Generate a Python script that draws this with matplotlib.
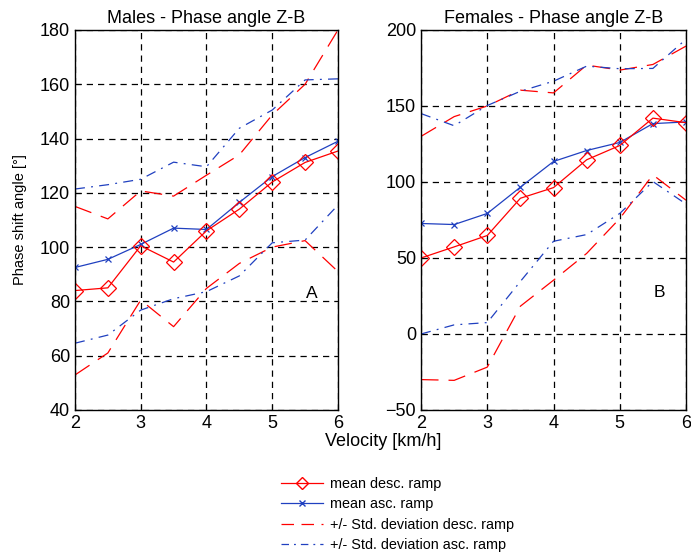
import matplotlib
matplotlib.use("Agg")
import matplotlib.pyplot as plt
from matplotlib.lines import Line2D

plt.rcParams['font.family'] = ['Liberation Sans', 'DejaVu Sans']

velocity = [2, 2.5, 3, 3.5, 4, 4.5, 5, 5.5, 6]

# Males
m_desc_mean = [84, 85, 100.5, 94.5, 106, 114, 124, 131.2, 135.4]
m_asc_mean = [92.5, 95.5, 101, 107, 106.5, 116.5, 126, 133, 139]
m_desc_up = [115, 110.4, 120.7, 118.8, 126.5, 134, 148.7, 160, 180]
m_desc_lo = [52.9, 61, 80.5, 70.7, 84.8, 94, 100, 102.4, 91]
m_asc_up = [121.4, 123, 125, 131.3, 129.6, 143.8, 150.5, 161.6, 162]
m_asc_lo = [64.6, 67.6, 76.8, 81, 83.6, 89.4, 101.6, 102.6, 115.5]

# Females
f_desc_mean = [50, 57.3, 64.8, 89.3, 96.3, 114.6, 124, 142, 139]
f_asc_mean = [72.7, 72, 79.3, 96.6, 113.5, 120.7, 126, 138.4, 139.5]
f_desc_up = [130, 143, 150, 160.4, 158.6, 176.9, 173.6, 177.3, 189.4]
f_desc_lo = [-30, -30.5, -21.8, 18.3, 35.4, 53, 76, 104.7, 88]
f_asc_up = [145, 137, 150.3, 159.7, 166.3, 176.2, 174.5, 174.7, 193.9]
f_asc_lo = [0, 6, 7.5, 34.6, 61, 65.4, 79.3, 100.3, 85.5]

RED = '#ff0000'
BLUE = '#2040c0'
red_dash = (0, (14, 8))
blue_dashdot = (0, (8, 5, 1.5, 5))

fig = plt.figure(figsize=(6.91, 5.53), dpi=100)
ax1 = fig.add_axes([0.1085, 0.2586, 0.3806, 0.6872])
ax2 = fig.add_axes([0.6093, 0.2586, 0.3835, 0.6872])


def draw(ax, dmean, amean, dup, dlo, aup, alo):
    ax.plot(velocity, dup, color=RED, lw=0.9, linestyle=red_dash)
    ax.plot(velocity, dlo, color=RED, lw=0.9, linestyle=red_dash)
    ax.plot(velocity, aup, color=BLUE, lw=0.9, linestyle=blue_dashdot)
    ax.plot(velocity, alo, color=BLUE, lw=0.9, linestyle=blue_dashdot)
    ax.plot(velocity, amean, color=BLUE, lw=0.9, marker='x', ms=5, mew=0.9)
    ax.plot(velocity, dmean, color=RED, lw=0.9, marker='D', ms=8,
            mfc='none', mec=RED, mew=0.9)
    ax.set_xlim(2, 6)
    ax.set_xticks([2, 3, 4, 5, 6])
    ax.grid(True, color='black', linestyle=(0, (5, 4)), lw=0.9)
    ax.tick_params(direction='in', labelsize=13, length=4)
    for s in ax.spines.values():
        s.set_linewidth(1.0)


draw(ax1, m_desc_mean, m_asc_mean, m_desc_up, m_desc_lo, m_asc_up, m_asc_lo)
ax1.set_ylim(40, 180)
ax1.set_yticks(range(40, 181, 20))
ax1.set_title('Males - Phase angle Z-B', fontsize=13, pad=5)
ax1.set_ylabel('Phase shift angle [°]', fontsize=10.5)
ax1.yaxis.set_label_coords(-0.182, 0.5)
ax1.text(5.6, 83, 'A', ha='center', va='center', fontsize=12.5)

draw(ax2, f_desc_mean, f_asc_mean, f_desc_up, f_desc_lo, f_asc_up, f_asc_lo)
ax2.set_ylim(-50, 200)
ax2.set_yticks(range(-50, 201, 50))
ax2.set_title('Females - Phase angle Z-B', fontsize=13, pad=5)
ax2.text(5.6, 27, 'B', ha='center', va='center', fontsize=12.5)

fig.text(0.555, 1 - 442 / 553, 'Velocity [km/h]', ha='center', va='center',
         fontsize=13)

handles = [
    Line2D([], [], color=RED, lw=0.9, marker='D', ms=6, mfc='none', mec=RED),
    Line2D([], [], color=BLUE, lw=0.9, marker='x', ms=4),
    Line2D([], [], color=RED, lw=0.9, linestyle=(0, (10, 6))),
    Line2D([], [], color=BLUE, lw=0.9, linestyle=(0, (6, 4, 1.5, 4))),
]
labels = ['mean desc. ramp', 'mean asc. ramp',
          '+/- Std. deviation desc. ramp', '+/- Std. deviation asc. ramp']
fig.legend(handles, labels, loc='upper left', bbox_to_anchor=(0.396, 0.151),
           frameon=False, fontsize=10.4, handlelength=2.9, labelspacing=0.45,
           handletextpad=0.5, borderpad=0)

fig.savefig('out.png', dpi=100)
